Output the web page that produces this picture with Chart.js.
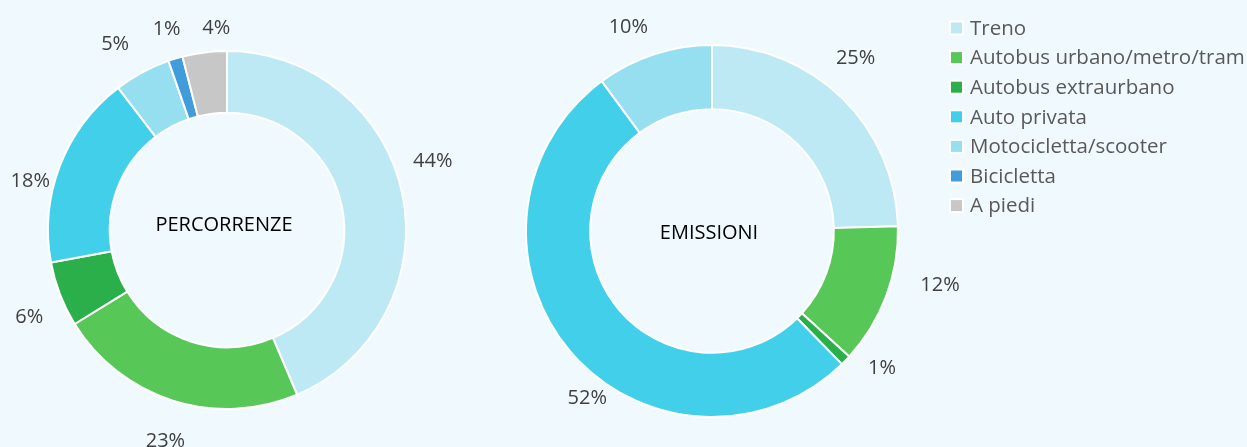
<!DOCTYPE html>
<html>
<head>
<meta charset="utf-8">
<script src="https://cdn.jsdelivr.net/npm/chart.js@4"></script>
<style>
  body { margin: 0; background: #f0fafe; }
  #wrap { position: relative; width: 1247px; height: 447px; background: #f0fafe; overflow: hidden; }
  canvas { position: absolute; top: 0; }
</style>
</head>
<body>
<div id="wrap">
  <canvas id="percorrenze" width="454" height="447" style="left:0"></canvas>
  <canvas id="emissioni" width="777" height="447" style="left:470px"></canvas>
</div>
<script>
const categories = ['Treno', 'Autobus urbano/metro/tram', 'Autobus extraurbano', 'Auto privata', 'Motocicletta/scooter', 'Bicicletta', 'A piedi'];
const percorrenze = [43.6, 22.6, 5.9, 17.5, 5.1, 1.3, 4.0];
const emissioni = [24.6, 12.2, 0.9, 52.2, 10.1, 0, 0];
const colors = ['#bde9f5', '#57c757', '#2aaf4a', '#42cfea', '#95dff1', '#419cdb', '#c7c7c7'];

const FONT = '"Open Sans", Lato, sans-serif';

// percent labels outside each ring, with a small hand nudge per label
const outsideLabels = {
  id: 'outsideLabels',
  afterDatasetsDraw(chart, args, opts) {
    const ctx = chart.ctx;
    const values = chart.data.datasets[0].data;
    const total = values.reduce((a, b) => a + b, 0);
    ctx.save();
    ctx.font = '20px ' + FONT;
    ctx.fillStyle = '#404040';
    ctx.textAlign = 'center';
    ctx.textBaseline = 'middle';
    chart.getDatasetMeta(0).data.forEach((arc, i) => {
      if (!values[i]) return;
      const a = (arc.startAngle + arc.endAngle) / 2;
      const r = arc.outerRadius + 34;
      const n = opts.nudge[i] || [0, 0];
      ctx.fillText(Math.round(values[i] / total * 100) + '%',
        arc.x + Math.cos(a) * r + n[0], arc.y + Math.sin(a) * r + n[1]);
    });
    ctx.restore();
  }
};

const centerText = {
  id: 'centerText',
  afterDraw(chart, args, opts) {
    const arc = chart.getDatasetMeta(0).data[0];
    const ctx = chart.ctx;
    ctx.save();
    ctx.font = '20px ' + FONT;
    ctx.fillStyle = '#000';
    ctx.textAlign = 'center';
    ctx.textBaseline = 'middle';
    ctx.fillText(opts.text, arc.x + opts.dx, arc.y + opts.dy);
    ctx.restore();
  }
};

// legend drawn at a fixed spot to the right of the second ring
const sideLegend = {
  id: 'sideLegend',
  afterDraw(chart, args, opts) {
    if (!opts.show) return;
    const ctx = chart.ctx;
    const ds = chart.data.datasets[0];
    ctx.save();
    ctx.font = '20.5px ' + FONT;
    ctx.textBaseline = 'middle';
    chart.data.labels.forEach((label, i) => {
      const y = opts.top + i * opts.step;
      ctx.fillStyle = '#fff';
      ctx.fillRect(opts.left - 2, y - 7.5, 15, 15);
      ctx.fillStyle = ds.backgroundColor[i];
      ctx.fillRect(opts.left, y - 5.5, 11, 11);
      ctx.fillStyle = '#595959';
      ctx.fillText(label, opts.left + 19, y + 1);
    });
    ctx.restore();
  }
};

function makeRing(id, values, title, padding, center, nudge, legend) {
  return new Chart(document.getElementById(id), {
    type: 'doughnut',
    data: {
      labels: categories,
      datasets: [{
        data: values,
        backgroundColor: colors,
        borderColor: '#ffffff',
        borderWidth: 2,
        hoverOffset: 0
      }]
    },
    options: {
      responsive: false,
      animation: false,
      cutout: '65.5%',
      layout: { padding: padding },
      plugins: {
        legend: { display: false },
        tooltip: { enabled: false },
        centerText: { text: title, dx: center[0], dy: center[1] },
        outsideLabels: { nudge: nudge },
        sideLegend: legend
      }
    },
    plugins: [outsideLabels, centerText, sideLegend]
  });
}

makeRing('percorrenze', percorrenze, 'PERCORRENZE', { top: 50, bottom: 37, left: 47, right: 47 }, [-3, -5],
  [[-3, -26], [3, 8], [1, 11], [2, 28], [-11, 2], [1, 3], [16, 10]], { show: false });
makeRing('emissioni', emissioni, 'EMISSIONI', { top: 44, bottom: 29, left: 55, right: 348 }, [-3, 2],
  [[-10, -15], [22, -23], [12, -16], [43, 25], [-15, 5]],
  { show: true, left: 481, top: 28, step: 29.6 });
</script>
</body>
</html>
